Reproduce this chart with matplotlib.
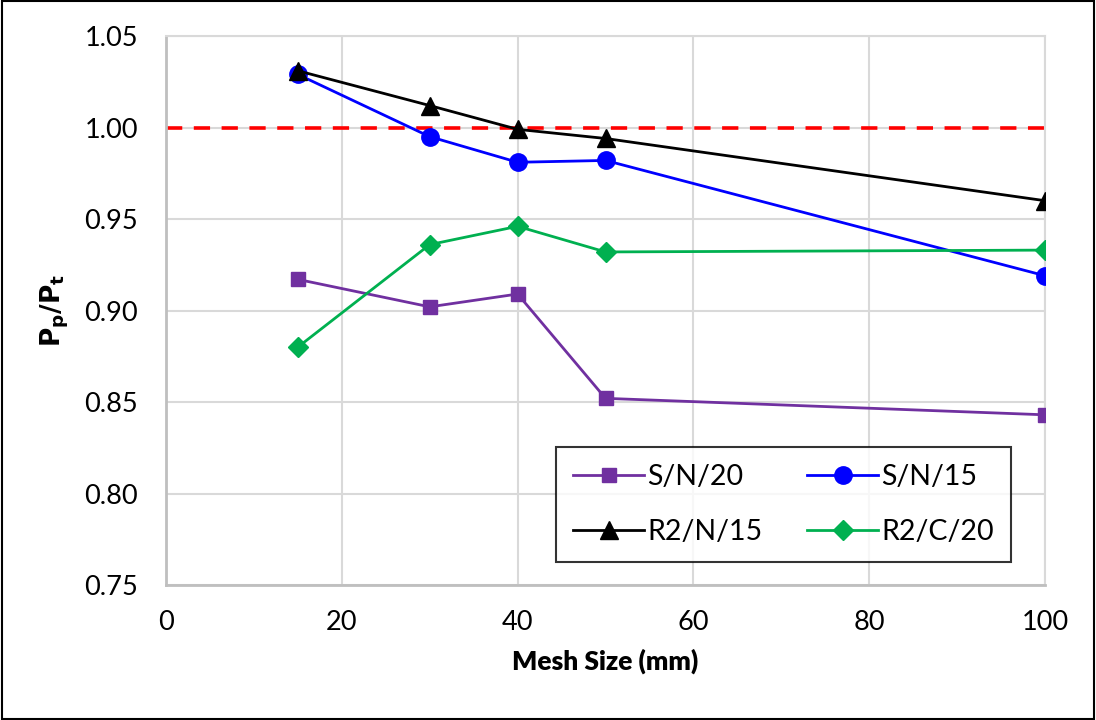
import matplotlib
matplotlib.use("Agg")
import matplotlib.pyplot as plt
from matplotlib.patches import Rectangle

# mesh sizes (mm)
mesh = [15, 30, 40, 50, 100]

# Pp/Pt ratios
sn20 = [0.917, 0.902, 0.909, 0.852, 0.843]
sn15 = [1.029, 0.995, 0.981, 0.982, 0.919]
r2n15 = [1.031, 1.012, 0.999, 0.994, 0.960]
r2c20 = [0.880, 0.936, 0.946, 0.932, 0.933]

ref_x = [0, 100]
ref_y = [1.0, 1.0]

plt.rcParams['font.family'] = ['Lato', 'DejaVu Sans']

fig = plt.figure(figsize=(10.96, 7.2), dpi=100)
ax = fig.add_axes([166/1096, 1-585/720, (1045-166)/1096, (585-36)/720])

ax.plot(ref_x, ref_y, color='#FF0000', lw=2.6, dashes=(4.5, 3.2), zorder=2)

l1, = ax.plot(mesh, sn20, color='#7030A0', lw=2, marker='s', ms=9.5, label='S/N/20', zorder=3)
l2, = ax.plot(mesh, sn15, color='#0000FF', lw=2, marker='o', ms=12.5, label='S/N/15', zorder=3)
l3, = ax.plot(mesh, r2n15, color='black', lw=2, marker='^', ms=13, label='R2/N/15', zorder=3)
l4, = ax.plot(mesh, r2c20, color='#00B050', lw=2, marker='D', ms=10, label='R2/C/20', zorder=3)

ax.set_xlim(0, 100)
ax.set_ylim(0.75, 1.05)
ax.set_xticks([0, 20, 40, 60, 80, 100])
ax.set_yticks([0.75, 0.80, 0.85, 0.90, 0.95, 1.00, 1.05])
ax.set_yticklabels(["%.2f" % v for v in ax.get_yticks()])

ax.grid(True, color='#D9D9D9', lw=1.5)
ax.set_axisbelow(True)
ax.tick_params(length=0, labelsize=19.5)
ax.tick_params(axis='x', pad=18)
ax.tick_params(axis='y', pad=20)

for s in ['top', 'right']:
    ax.spines[s].set_color('#D9D9D9')
    ax.spines[s].set_linewidth(1.5)
for s in ['left', 'bottom']:
    ax.spines[s].set_color('#BFBFBF')
    ax.spines[s].set_linewidth(2)

ax.set_xlabel('Mesh Size (mm)', fontsize=19, fontweight='heavy', labelpad=10)
ax.set_ylabel(r'$\mathbf{P_p/P_t}$', fontsize=19, labelpad=10)

# row-major order like the original: S/N/20, S/N/15 / R2/N/15, R2/C/20
leg = ax.legend([l1, l3, l2, l4], ['S/N/20', 'R2/N/15', 'S/N/15', 'R2/C/20'],
                ncol=2, loc='lower left',
                bbox_to_anchor=(556/1096, 1-562/720, 455/1096, 119/720),
                bbox_transform=fig.transFigure, mode='expand', borderaxespad=0,
                fontsize=20.5, frameon=True, fancybox=False, edgecolor='black',
                handlelength=2.5, handletextpad=0.1, labelspacing=1.0,
                borderpad=0.6, columnspacing=1.0)
leg.get_frame().set_linewidth(1.5)
leg._legend_box.align = 'left'

fig.patches.append(Rectangle((0.0015, 0.002), 0.997, 0.996, transform=fig.transFigure,
                             fill=False, edgecolor='black', lw=1.5))

fig.savefig('out.png', dpi=100)
